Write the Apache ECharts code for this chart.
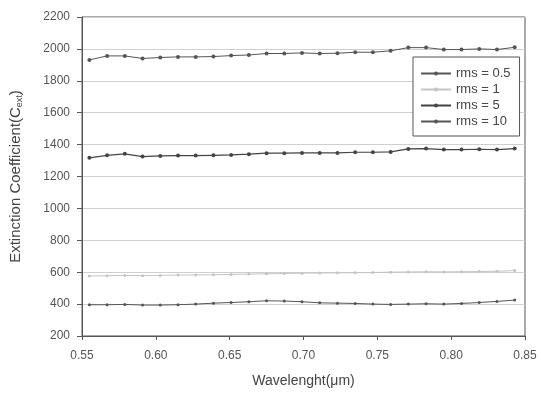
<!DOCTYPE html>
<html><head><meta charset="utf-8">
<script src="https://cdn.jsdelivr.net/npm/echarts@6/dist/echarts.min.js"></script>
<style>html,body{margin:0;padding:0;background:#fff;}#c{width:541px;height:393px;}</style>
</head><body><div id="c"></div>
<script>
const wavelengths = [0.555,0.567,0.579,0.591,0.603,0.615,0.627,0.639,0.651,0.663,0.675,0.687,0.699,0.711,0.723,0.735,0.747,0.759,0.771,0.783,0.795,0.807,0.819,0.831,0.843];
const rms05 = [396,396,398,394,394,396,400,406,410,415,421,419,415,408,406,404,400,398,400,402,400,404,410,417,425];
const rms1  = [576,578,580,578,580,582,583,584,586,588,590,592,594,595,596,597,598,600,602,603,602,603,604,606,610];
const rms5  = [1317,1333,1342,1325,1329,1331,1331,1333,1335,1340,1346,1346,1348,1348,1348,1352,1352,1354,1373,1375,1369,1369,1371,1369,1375];
const rms10 = [1931,1956,1956,1940,1946,1950,1950,1952,1958,1962,1971,1971,1975,1971,1973,1979,1979,1988,2008,2008,1996,1996,2000,1996,2010];
const seriesNames = ['rms = 0.5','rms = 1','rms = 5','rms = 10'];
const xTicks = [0.55,0.60,0.65,0.70,0.75,0.80,0.85];
const yTicks = [200,400,600,800,1000,1200,1400,1600,1800,2000,2200];

const chart = echarts.init(document.getElementById('c'));
const font = 'Arial, "Liberation Sans", sans-serif';
function mk(name, vals, color, lw, sym) {
  return {
    name, type:'line', data: wavelengths.map((w,i)=>[w, vals[i]]),
    symbol:'circle', symbolSize: sym, showSymbol:true,
    lineStyle:{color, width:lw}, itemStyle:{color},
    animation:false
  };
}
chart.setOption({
  backgroundColor:'#fff',
  animation:false,
  grid:{left:82, right:16, top:17, bottom:56, show:true, borderColor:'#555', borderWidth:1, backgroundColor:'#fff'},
  legend:{
    orient:'vertical', left:413, top:57,
    data: seriesNames,
    backgroundColor:'#fff', borderColor:'#555', borderWidth:1,
    padding:[9,9,7,7], itemGap:1, itemWidth:30, itemHeight:5,
    textStyle:{fontFamily:font, fontSize:13, color:'#444', lineHeight:15}
  },
  xAxis:{
    type:'value', min:0.55, max:0.85, interval:0.05,
    name:'Wavelenght(μm)', nameLocation:'middle', nameGap:38,
    nameTextStyle:{fontFamily:font, fontSize:14, color:'#444'},
    axisLine:{lineStyle:{color:'#555'}},
    axisTick:{show:true, length:4, lineStyle:{color:'#555'}},
    axisLabel:{fontFamily:font, fontSize:12, color:'#555', margin:14, formatter:v=>v.toFixed(2)},
    splitLine:{show:false}
  },
  yAxis:{
    type:'value', min:200, max:2200, interval:200,
    name:'Extinction Coefficient(C{sub|ext})', nameLocation:'middle', nameGap:58,
    nameTextStyle:{fontFamily:font, fontSize:15, color:'#444',
      rich:{sub:{fontFamily:font, fontSize:9, color:'#444', verticalAlign:'bottom', padding:[7,0,0,0]}}},
    axisLine:{show:true, lineStyle:{color:'#555'}},
    axisTick:{show:true, length:5, lineStyle:{color:'#555'}},
    axisLabel:{fontFamily:font, fontSize:12, color:'#555', margin:12, formatter:v=>String(v)},
    splitLine:{show:true, lineStyle:{color:'#cfcfcf', width:1}}
  },
  series:[
    mk(seriesNames[0], rms05, '#555', 1, 3),
    mk(seriesNames[1], rms1, '#c4c4c4', 1, 3),
    mk(seriesNames[2], rms5, '#444', 1.2, 4),
    mk(seriesNames[3], rms10, '#555', 1, 4)
  ]
});
</script></body></html>
